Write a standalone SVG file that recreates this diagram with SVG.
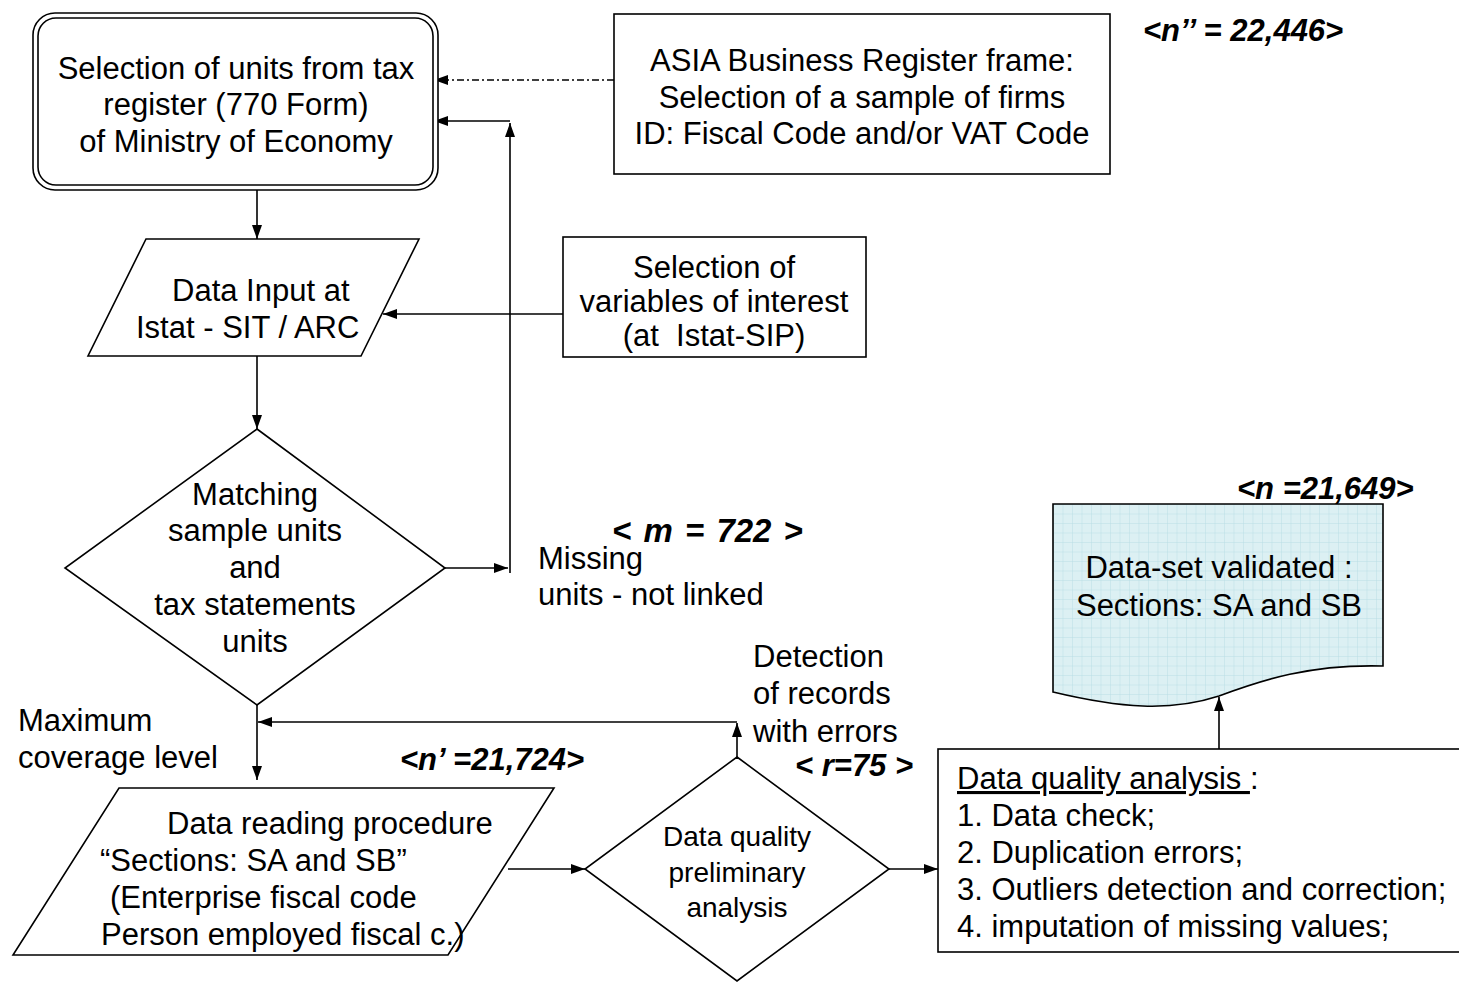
<svg xmlns="http://www.w3.org/2000/svg" width="1459" height="982" viewBox="0 0 1459 982">
<defs>
<marker id="ah" viewBox="0 0 14 10" refX="14" refY="5" markerWidth="14" markerHeight="10" markerUnits="userSpaceOnUse" orient="auto">
<path d="M0,0 L14,5 L0,10 z" fill="#000"/>
</marker>
<pattern id="grid" width="9.5" height="9.5" patternUnits="userSpaceOnUse" x="1053" y="504">
<rect width="9.5" height="9.5" fill="#dcf0f3"/>
<path d="M0,0 H9.5 M0,0 V9.5" stroke="#b3dbe1" stroke-width="0.8" fill="none"/>
</pattern>
<style>
.t{font-family:"Liberation Sans",Arial,sans-serif;font-size:31px;fill:#000}
.c{text-anchor:middle}
.b{font-family:"Liberation Sans",Arial,sans-serif;font-size:31px;font-weight:bold;font-style:italic;fill:#000}
.s{fill:#fff;stroke:#000;stroke-width:1.6}
.k{fill:none;stroke:#000;stroke-width:1.6;marker-end:url(#ah)}
</style>
</defs>
<rect width="1459" height="982" fill="#fff"/>

<g id="connectors">
<path class="k" d="M614,80 H434" stroke-dasharray="7 3 2 3"/>
<path class="k" d="M510,573 V123"/>
<path class="k" d="M510,121 H434"/>
<path class="k" d="M257,188 V239"/>
<path class="k" d="M563,314 H383"/>
<path class="k" d="M257,356 V429"/>
<path class="k" d="M445,568 H508"/>
<path class="k" d="M257,705 V780"/>
<path class="k" d="M737,757 V723"/>
<path class="k" d="M737,722 H258"/>
<path class="k" d="M508,869 H585"/>
<path class="k" d="M889,869 H938"/>
<path class="k" d="M1219,749 V697"/>
</g>

<g id="n-tax-register">
<rect class="s" x="33" y="13" width="405" height="177" rx="22"/>
<rect class="s" x="38" y="18" width="395" height="167" rx="18"/>
<text class="t c" x="236" y="79">Selection of units from tax</text>
<text class="t c" x="236" y="115">register (770 Form)</text>
<text class="t c" x="236" y="152">of Ministry of Economy</text>
</g>

<g id="n-asia">
<rect class="s" x="614" y="14" width="496" height="160"/>
<text class="t c" x="862" y="71">ASIA Business Register frame:</text>
<text class="t c" x="862" y="108">Selection of a sample of firms</text>
<text class="t c" x="862" y="144">ID: Fiscal Code and/or VAT Code</text>
</g>

<text class="b" x="1143" y="41">&lt;n’’ = 22,446&gt;</text>

<g id="n-data-input">
<path class="s" d="M146,239 H419 L361,356 H88 Z"/>
<text class="t" x="172" y="301">Data Input at</text>
<text class="t" x="136" y="338">Istat - SIT / ARC</text>
</g>

<g id="n-variables">
<rect class="s" x="563" y="237" width="303" height="120"/>
<text class="t c" x="714" y="278">Selection of</text>
<text class="t c" x="714" y="312">variables of interest</text>
<text class="t c" x="714" y="346" style="white-space:pre">(at  Istat-SIP)</text>
</g>

<g id="n-matching">
<path class="s" d="M257,429 L445,568 L257,705 L65,568 Z"/>
<text class="t c" x="255" y="505">Matching</text>
<text class="t c" x="255" y="541">sample units</text>
<text class="t c" x="255" y="578">and</text>
<text class="t c" x="255" y="615">tax statements</text>
<text class="t c" x="255" y="652">units</text>
</g>

<g id="n-missing">
<text class="t" x="538" y="569">Missing</text>
<text class="t" x="538" y="605">units - not linked</text>
<text class="b" x="612" y="542" style="font-size:33px;word-spacing:3px">&lt; m = 722 &gt;</text>
</g>

<g id="n-coverage">
<text class="t" x="18" y="731">Maximum</text>
<text class="t" x="18" y="768">coverage level</text>
</g>
<text class="b" x="400" y="770">&lt;n’ =21,724&gt;</text>

<g id="n-data-reading">
<path class="s" d="M119,788 H554 L448,955 H13 Z"/>
<text class="t" x="167" y="834">Data reading procedure</text>
<text class="t" x="100" y="871">“Sections: SA and SB”</text>
<text class="t" x="110" y="908">(Enterprise fiscal code</text>
<text class="t" x="101" y="945">Person employed fiscal c.)</text>
</g>

<g id="n-preliminary">
<path class="s" d="M737,757 L889,869 L737,981 L585,869 Z"/>
<text class="t c" x="737" y="846" style="font-size:28px">Data quality</text>
<text class="t c" x="737" y="882" style="font-size:28px">preliminary</text>
<text class="t c" x="737" y="917" style="font-size:28px">analysis</text>
</g>

<g id="n-detection">
<text class="t" x="753" y="667">Detection</text>
<text class="t" x="753" y="704">of records</text>
<text class="t" x="753" y="742">with errors</text>
<text class="b" x="795" y="776" style="white-space:pre">&lt; r=75 &gt;</text>
</g>

<g id="n-quality">
<rect class="s" x="938" y="749" width="540" height="203"/>
<text class="t" x="957" y="789" style="white-space:pre"><tspan text-decoration="underline">Data quality analysis </tspan>:</text>
<text class="t" x="957" y="826">1. Data check;</text>
<text class="t" x="957" y="863">2. Duplication errors;</text>
<text class="t" x="957" y="900">3. Outliers detection and correction;</text>
<text class="t" x="957" y="937">4. imputation of missing values;</text>
</g>

<g id="n-validated">
<path d="M1053,504 H1383 V666 C1310,664 1262,680 1219,696 C1170,712 1120,708 1053,692 Z" fill="url(#grid)" stroke="#000" stroke-width="1.6"/>
<text class="t c" x="1219" y="578">Data-set validated :</text>
<text class="t c" x="1219" y="616">Sections: SA and SB</text>
<text class="b" x="1237" y="499">&lt;n =21,649&gt;</text>
</g>
</svg>
